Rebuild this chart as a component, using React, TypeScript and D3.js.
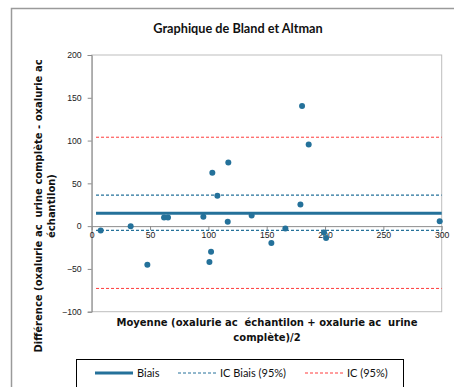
import { useRef, useEffect } from "react";
import * as d3 from "d3";

// moyenne (x) et différence (y)
const moyennes = [7.7, 33.4, 47.7, 62, 65.4, 95.7, 100.9, 102.3, 103.4, 107.7, 116.6, 117.1, 137.1, 154, 166, 178.9, 180.3, 186, 199.1, 200.9, 298.3];
const differences = [-5, 0, -45, 10, 10, 10.9, -42, -30, 62.3, 35.4, 5, 74.3, 12.5, -19.8, -2.7, 25.3, 140.5, 95.3, -7.4, -14, 5.8];

const biais = 15.2;
const icBiais = [36.2, -5];
const ic = [103.9, -72.8];
const ligneX = [3.7, 300];

const xTicks = [0, 50, 100, 150, 200, 250, 300];
const yTicks = [-100, -50, 0, 50, 100, 150, 200];

const legende = [
  { label: "Biais", color: "#24719A", width: 3, dash: null },
  { label: "IC Biais (95%)", color: "#24719A", width: 1, dash: "3,2" },
  { label: "IC (95%)", color: "#FF3B3B", width: 1, dash: "3,2" },
];

export default function App() {
  const svgRef = useRef<SVGSVGElement>(null);

  useEffect(() => {
    const svg = d3.select(svgRef.current);
    const width = 454;
    const height = 387;
    svg.selectAll("*").remove();

    svg.append("rect").attr("width", width).attr("height", height).attr("fill", "white");

    // cadre du graphique
    svg.append("path")
      .attr("d", `M11.5,${height} V8.5 H${width}`)
      .attr("fill", "none")
      .attr("stroke", "#9a9a9a")
      .attr("stroke-width", 1.5);

    const x = d3.scaleLinear().domain([0, 300]).range([91.7, 441.7]);
    const y = d3.scaleLinear().domain([-100, 200]).range([311.7, 55]);

    // zone de tracé
    svg.append("rect")
      .attr("x", x(0))
      .attr("y", y(200))
      .attr("width", x(300) - x(0))
      .attr("height", y(-100) - y(200))
      .attr("fill", "none")
      .attr("stroke", "#bdbdbd")
      .attr("stroke-width", 1);

    svg.append("text")
      .attr("x", 238)
      .attr("y", 33)
      .attr("text-anchor", "middle")
      .attr("font-family", "Lato, 'Open Sans', sans-serif")
      .attr("font-weight", "bold")
      .attr("font-size", 12.7)
      .attr("fill", "#111")
      .text("Graphique de Bland et Altman");

    const tickFont = "'Liberation Sans', Arial, sans-serif";

    // axe Y
    const yAxis = svg.append("g")
      .attr("transform", `translate(${x(0)},0)`)
      .call(d3.axisLeft(y).tickValues(yTicks).tickSize(4).tickPadding(6));
    yAxis.select(".domain").attr("stroke", "#8c8c8c");
    yAxis.selectAll(".tick line").attr("stroke", "#8c8c8c");
    yAxis.selectAll("text")
      .attr("font-family", tickFont)
      .attr("font-size", 8.7)
      .attr("fill", "#222");

    // axe X à y = 0
    const xAxis = svg.append("g")
      .attr("transform", `translate(0,${y(0)})`)
      .call(d3.axisBottom(x).tickValues(xTicks).tickSize(4).tickPadding(2).tickSizeOuter(0));
    xAxis.select(".domain").attr("stroke", "#8c8c8c");
    xAxis.selectAll(".tick line").attr("stroke", "#8c8c8c");
    xAxis.selectAll("text")
      .attr("font-family", tickFont)
      .attr("font-size", 8.7)
      .attr("fill", "#222");

    const hline = (v: number, color: string, w: number, dash: string | null) => {
      svg.append("line")
        .attr("x1", x(ligneX[0]))
        .attr("x2", x(ligneX[1]))
        .attr("y1", y(v))
        .attr("y2", y(v))
        .attr("stroke", color)
        .attr("stroke-width", w)
        .attr("stroke-dasharray", dash);
    };
    ic.forEach(v => hline(v, legende[2].color, 1, legende[2].dash));
    icBiais.forEach(v => hline(v, legende[1].color, 1.2, legende[1].dash));
    hline(biais, legende[0].color, 3, null);

    // points
    svg.append("g")
      .selectAll("circle")
      .data(moyennes.map((m, i) => ({ m, d: differences[i] })))
      .join("circle")
      .attr("cx", p => x(p.m))
      .attr("cy", p => y(p.d))
      .attr("r", 3)
      .attr("fill", "#24719A");

    // titres des axes
    const titreFont = "'DejaVu Sans', Verdana, sans-serif";
    const xTitle = svg.append("text")
      .attr("text-anchor", "middle")
      .attr("font-family", titreFont)
      .attr("font-weight", "bold")
      .attr("font-size", 10)
      .attr("fill", "#111")
      .style("white-space", "pre");
    xTitle.append("tspan").attr("x", 267).attr("y", 326).text("Moyenne (oxalurie ac  échantilon + oxalurie ac  urine");
    xTitle.append("tspan").attr("x", 267).attr("y", 341).text("complète)/2");

    const yTitle = svg.append("text")
      .attr("transform", "translate(0,206) rotate(-90)")
      .attr("text-anchor", "middle")
      .attr("font-family", titreFont)
      .attr("font-weight", "bold")
      .attr("font-size", 10)
      .attr("fill", "#111")
      .style("white-space", "pre");
    yTitle.append("tspan").attr("x", 0).attr("y", 42).text("Différence (oxalurie ac  urine complète - oxalurie ac");
    yTitle.append("tspan").attr("x", 0).attr("y", 55).text("échantilon)");

    // légende
    svg.append("rect")
      .attr("x", 76.5)
      .attr("y", 359.5)
      .attr("width", 327)
      .attr("height", 40)
      .attr("fill", "white")
      .attr("stroke", "#000")
      .attr("stroke-width", 1);

    const legX = [95, 178, 305];
    legende.forEach((l, i) => {
      svg.append("line")
        .attr("x1", legX[i])
        .attr("x2", legX[i] + 38)
        .attr("y1", 373)
        .attr("y2", 373)
        .attr("stroke", l.color)
        .attr("stroke-width", l.width)
        .attr("stroke-dasharray", l.dash);
      svg.append("text")
        .attr("x", legX[i] + 42)
        .attr("y", 377)
        .attr("font-family", "Lato, 'Open Sans', sans-serif")
        .attr("font-size", 11)
        .attr("fill", "#111")
        .text(l.label);
    });
  }, []);

  return (
    <svg
      ref={svgRef}
      width={454}
      height={387}
      style={{ position: "absolute", left: 0, top: 0, display: "block" }}
    />
  );
}
